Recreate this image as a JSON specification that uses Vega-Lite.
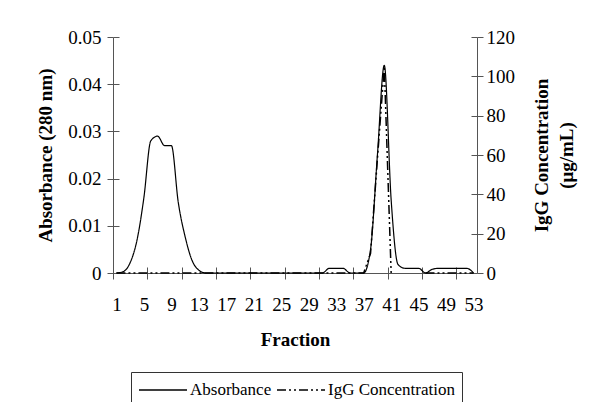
{
  "$schema": "https://vega.github.io/schema/vega-lite/v6.json",
  "width": 364,
  "height": 236,
  "autosize": "none",
  "padding": {"left": 113, "top": 37, "right": 112, "bottom": 129},
  "background": "white",
  "config": {
    "font": "Liberation Serif",
    "view": {"stroke": null},
    "axis": {
      "domainColor": "#555",
      "tickColor": "#555",
      "labelColor": "black",
      "titleColor": "black",
      "labelFont": "Liberation Serif",
      "titleFont": "Liberation Serif",
      "labelFontSize": 19,
      "titleFontSize": 19,
      "titleFontWeight": "bold",
      "grid": false,
      "tickSize": 6
    }
  },
  "data": {
    "values": [
      {"f": 1, "abs": 0, "igg": 0},
      {"f": 2, "abs": 0.0003, "igg": 0},
      {"f": 3, "abs": 0.0022, "igg": 0},
      {"f": 4, "abs": 0.007, "igg": 0},
      {"f": 5, "abs": 0.016, "igg": 0},
      {"f": 6, "abs": 0.028, "igg": 0},
      {"f": 7, "abs": 0.029, "igg": 0},
      {"f": 8, "abs": 0.027, "igg": 0},
      {"f": 9, "abs": 0.027, "igg": 0},
      {"f": 10, "abs": 0.015, "igg": 0},
      {"f": 11, "abs": 0.0077, "igg": 0},
      {"f": 12, "abs": 0.0027, "igg": 0},
      {"f": 13, "abs": 0.0006, "igg": 0},
      {"f": 14, "abs": 0, "igg": 0},
      {"f": 15, "abs": 0, "igg": 0},
      {"f": 16, "abs": 0, "igg": 0},
      {"f": 17, "abs": 0, "igg": 0},
      {"f": 18, "abs": 0, "igg": 0},
      {"f": 19, "abs": 0, "igg": 0},
      {"f": 20, "abs": 0, "igg": 0},
      {"f": 21, "abs": 0, "igg": 0},
      {"f": 22, "abs": 0, "igg": 0},
      {"f": 23, "abs": 0, "igg": 0},
      {"f": 24, "abs": 0, "igg": 0},
      {"f": 25, "abs": 0, "igg": 0},
      {"f": 26, "abs": 0, "igg": 0},
      {"f": 27, "abs": 0, "igg": 0},
      {"f": 28, "abs": 0, "igg": 0},
      {"f": 29, "abs": 0, "igg": 0},
      {"f": 30, "abs": 0, "igg": 0},
      {"f": 31, "abs": 0, "igg": 0},
      {"f": 32, "abs": 0.001, "igg": 0},
      {"f": 33, "abs": 0.001, "igg": 0},
      {"f": 34, "abs": 0.001, "igg": 0},
      {"f": 35, "abs": 0, "igg": 0},
      {"f": 36, "abs": 0, "igg": 0},
      {"f": 37, "abs": 0, "igg": 0},
      {"f": 38, "abs": 0.005, "igg": 10},
      {"f": 39, "abs": 0.025, "igg": 58},
      {"f": 40, "abs": 0.044, "igg": 105},
      {"f": 41, "abs": 0.0155, "igg": 0},
      {"f": 42, "abs": 0.0018, "igg": null},
      {"f": 43, "abs": 0.001, "igg": null},
      {"f": 44, "abs": 0.001, "igg": null},
      {"f": 45, "abs": 0.001, "igg": null},
      {"f": 46, "abs": 0, "igg": 0},
      {"f": 47, "abs": 0.0008, "igg": 0},
      {"f": 48, "abs": 0.001, "igg": 0},
      {"f": 49, "abs": 0.001, "igg": 0},
      {"f": 50, "abs": 0.001, "igg": 0},
      {"f": 51, "abs": 0.001, "igg": 0},
      {"f": 52, "abs": 0.001, "igg": 0},
      {"f": 53, "abs": 0, "igg": 0}
    ]
  },
  "layer": [
    {
      "mark": {"type": "line", "interpolate": "monotone", "color": "black", "strokeWidth": 1.2},
      "encoding": {
        "x": {
          "field": "f", "type": "quantitative",
          "scale": {"domain": [0.5, 53.5], "nice": false, "zero": false},
          "axis": {
            "orient": "bottom",
            "title": "Fraction",
            "values": [1, 5, 9, 13, 17, 21, 25, 29, 33, 37, 41, 45, 49, 53],
            "ticks": false,
            "labelPadding": 22,
            "titlePadding": 16
          }
        },
        "y": {
          "field": "abs", "type": "quantitative",
          "scale": {"domain": [0, 0.05], "nice": false},
          "axis": {
            "orient": "left",
            "title": "Absorbance (280 nm)",
            "values": [0, 0.01, 0.02, 0.03, 0.04, 0.05],
            "labelExpr": "datum.value === 0 ? '0' : format(datum.value, '.2f')",
            "labelPadding": 6,
            "titlePadding": 12
          }
        },
        "strokeDash": {
          "datum": "Absorbance",
          "type": "nominal",
          "scale": {"domain": ["Absorbance", "IgG Concentration"], "range": [[1, 0], [9, 3, 2, 3, 2, 3]]},
          "legend": {
            "title": null,
            "orient": "none",
            "legendX": 18,
            "legendY": 335,
            "direction": "horizontal",
            "symbolType": "M-2.4,0H2.4",
            "symbolSize": 400,
            "symbolOffset": 14,
            "symbolStrokeWidth": 1.5,
            "symbolStrokeColor": "black",
            "labelFontSize": 17,
            "labelFont": "Liberation Serif",
            "labelColor": "black",
            "labelOffset": 16,
            "columnPadding": 2,
            "strokeColor": "#333",
            "padding": 7
          }
        }
      }
    },
    {
      "mark": {"type": "line", "color": "black", "strokeWidth": 1.5},
      "encoding": {
        "x": {
          "field": "f", "type": "quantitative",
          "axis": {
            "orient": "bottom",
            "title": null,
            "values": [0.5, 5.5, 10.5, 15.5, 20.5, 25.5, 30.5, 35.5, 40.5, 45.5, 50.5],
            "labels": false,
            "domain": false,
            "tickSize": 6
          }
        },
        "y": {
          "field": "igg", "type": "quantitative",
          "scale": {"domain": [0, 120], "nice": false},
          "axis": {
            "orient": "right",
            "title": ["IgG Concentration", "(μg/mL)"],
            "titleAngle": 270,
            "titleLineHeight": 25,
            "values": [0, 20, 40, 60, 80, 100, 120],
            "labelPadding": 3,
            "titlePadding": 12
          }
        },
        "strokeDash": {"datum": "IgG Concentration", "type": "nominal"}
      }
    },
    {
      "mark": {"type": "line", "opacity": 0},
      "encoding": {
        "x": {
          "field": "f", "type": "quantitative",
          "axis": {
            "orient": "bottom",
            "title": null,
            "values": [0.5, 5.5, 10.5, 15.5, 20.5, 25.5, 30.5, 35.5, 40.5, 45.5, 50.5],
            "labels": false,
            "domain": false,
            "tickSize": -6
          }
        },
        "y": {
          "field": "abs", "type": "quantitative",
          "scale": {"domain": [0, 0.05], "nice": false},
          "axis": {
            "orient": "left",
            "title": null,
            "values": [0, 0.01, 0.02, 0.03, 0.04, 0.05],
            "labels": false,
            "domain": false,
            "tickSize": -6
          }
        }
      }
    },
    {
      "mark": {"type": "line", "opacity": 0},
      "encoding": {
        "x": {"field": "f", "type": "quantitative", "axis": null},
        "y": {
          "field": "igg", "type": "quantitative",
          "scale": {"domain": [0, 120], "nice": false},
          "axis": {
            "orient": "right",
            "title": null,
            "values": [0, 20, 40, 60, 80, 100, 120],
            "labels": false,
            "domain": false,
            "tickSize": -6
          }
        }
      }
    }
  ],
  "resolve": {"scale": {"y": "independent"}, "axis": {"x": "independent", "y": "independent"}}
}
